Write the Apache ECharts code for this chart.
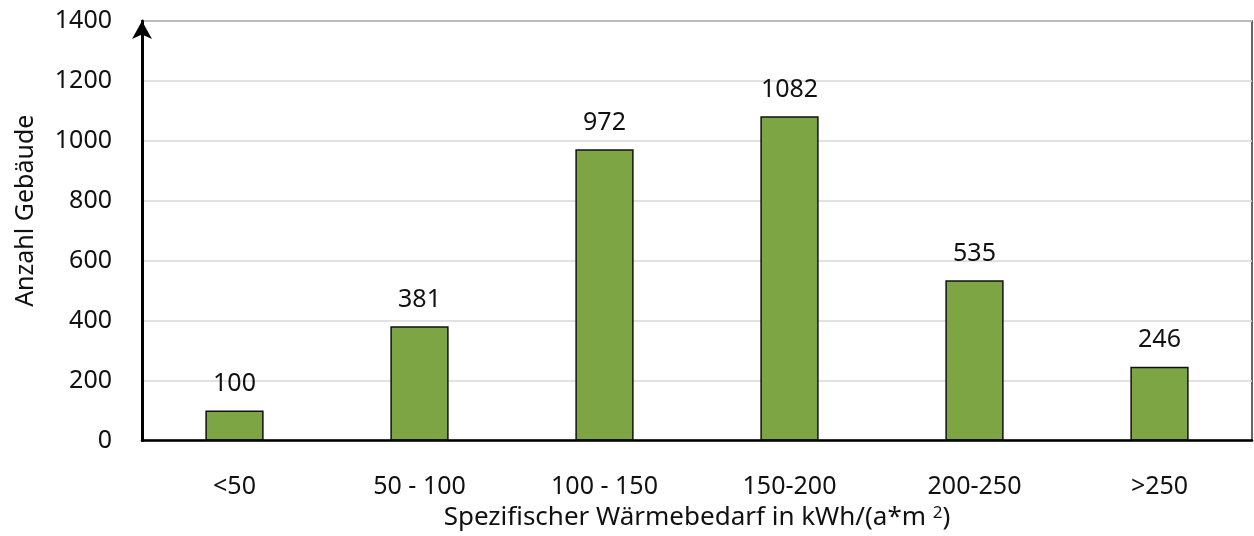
<!DOCTYPE html>
<html><head><meta charset="utf-8">
<script src="https://cdn.jsdelivr.net/npm/echarts@6/dist/echarts.min.js"></script>
<style>html,body{margin:0;padding:0;background:#fff}#c{width:1254px;height:536px}</style>
</head><body><div id="c"></div>
<script>
const categories = ['<50', '50 - 100', '100 - 150', '150-200', '200-250', '>250'];
const values = [100, 381, 972, 1082, 535, 246];
const yTicks = [0, 200, 400, 600, 800, 1000, 1200, 1400];
const FONT = 'Noto Sans';
const FS = 25;
const chart = echarts.init(document.getElementById('c'));
chart.setOption({
  animation: false,
  textStyle: {fontFamily: FONT},
  grid: {left: 142, right: 2, top: 21, bottom: 95, show: true, borderColor: '#333', borderWidth: 1.5, containLabel: false},
  xAxis: {
    type: 'category', data: categories,
    axisLine: {lineStyle: {color: '#000', width: 2.5}},
    axisTick: {show: false},
    axisLabel: {color: '#111', fontSize: FS, margin: 34, fontFamily: FONT},
    name: 'Spezifischer Wärmebedarf in kWh/(a*m {sup|2})',
    nameLocation: 'middle', nameGap: 64,
    nameTextStyle: {color: '#111', fontSize: 26, fontFamily: FONT,
      rich: {sup: {fontSize: 17, verticalAlign: 'top', padding: [0, 0, 10, 0], color: '#111', fontFamily: FONT}}}
  },
  yAxis: {
    type: 'value', min: yTicks[0], max: yTicks[yTicks.length - 1], interval: 200,
    axisLine: {show: true, lineStyle: {color: '#000', width: 3}, symbol: ['none', 'arrow'], symbolSize: [15, 18], symbolOffset: [0, 0]},
    axisTick: {show: false},
    axisLabel: {color: '#111', fontSize: FS, margin: 30, fontFamily: FONT, formatter: v => String(v)},
    splitLine: {lineStyle: {color: '#d9d9d9', width: 1.5}},
    name: 'Anzahl Gebäude', nameLocation: 'middle', nameGap: 104,
    nameTextStyle: {color: '#111', fontSize: FS, fontFamily: FONT, padding: [0, 0, 0, 40]}
  },
  series: [{
    type: 'bar', data: values, barWidth: '31.5%',
    itemStyle: {color: '#7ea544', borderColor: '#111', borderWidth: 1.5},
    label: {show: true, position: 'top', distance: 14, color: '#111', fontSize: FS, fontFamily: FONT}
  }]
});
</script></body></html>
